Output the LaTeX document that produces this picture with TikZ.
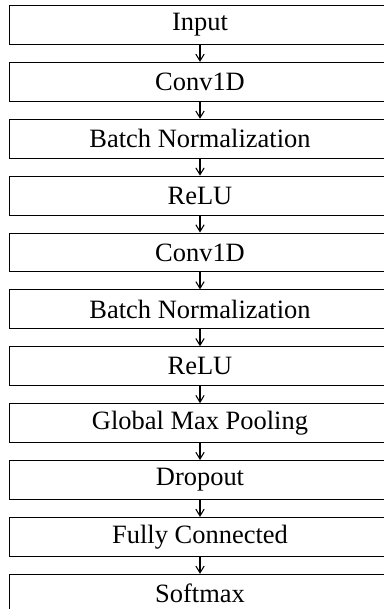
\documentclass[tikz,border=0pt]{standalone}
\usepackage{fontspec}
\setmainfont{Liberation Serif}
\usepackage{tikz}
\usetikzlibrary{calc,shapes,positioning}
\usetikzlibrary{arrows.meta}
\tikzset{>={Straight Barb[width=1.1mm,length=0.9mm]}}

\begin{document}
\begin{tikzpicture}
          \tikzstyle{lnode} = [draw, rectangle, inner sep = 0pt, minimum width = 144pt, minimum height = 14.7pt, align=center]
          \useasboundingbox (0,0) rectangle (144.8pt,-230.2pt);
          \node[lnode, anchor=north west] (inp) at (3.4pt,-1.9pt) {Input};
          \node[lnode, below = 6.4pt of inp] (conva) {Conv1D};
          \node[lnode, below = 6.4pt of conva] (bna) {Batch Normalization};
          \node[lnode, below = 6.4pt of bna] (relua) {ReLU};
          \node[lnode, below = 6.4pt of relua] (convb) {Conv1D};
          \node[lnode, below = 6.4pt of convb] (bnb) {Batch Normalization};
          \node[lnode, below = 6.4pt of bnb] (relub) {ReLU};
          \node[lnode, below = 6.4pt of relub] (gmp) {Global Max Pooling};
          \node[lnode, below = 6.4pt of gmp] (drop) {Dropout};
          \node[lnode, below = 6.4pt of drop] (fc) {Fully Connected};
          \node[lnode, below = 6.4pt of fc] (smax) {Softmax};

          % layer to layer
          \draw[->] (inp) -- (conva);
          \draw[->] (conva) -- (bna);
          \draw[->] (bna) -- (relua);
          \draw[->] (relua) -- (convb);
          \draw[->] (convb) -- (bnb);
          \draw[->] (bnb) -- (relub);
          \draw[->] (relub) -- (gmp);
          \draw[->] (gmp) -- (drop);
          \draw[->] (drop) -- (fc);
          \draw[->] (fc) -- (smax);
        \end{tikzpicture}
\end{document}
